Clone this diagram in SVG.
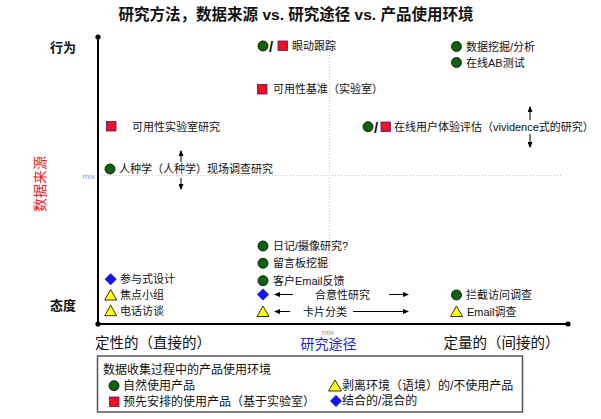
<svg xmlns="http://www.w3.org/2000/svg" width="601" height="419" viewBox="0 0 601 419">
<defs>
<marker id="ah" markerUnits="userSpaceOnUse" markerWidth="6" markerHeight="5" refX="5" refY="2.5" orient="auto">
<path d="M0,0 L6,2.5 L0,5 z" fill="#000"/>
</marker>
</defs>
<style>
text { font-family: "Liberation Sans","Noto Sans CJK SC",sans-serif; fill:#111; }
.t11 { font-size:11px; }
.leg { font-size:12px; }
.ax { font-size:13px; font-weight:bold; }
.big { font-size:14.5px; }
.mix { font-size:8px; fill:#999; }
.sl { font-size:15px; font-weight:bold; }
.g { fill:#0b640b; stroke:#000; stroke-width:0.8; }
.r { fill:#ee1122; stroke:#551177; stroke-width:0.8; }
.y { fill:#ffff00; stroke:#000; stroke-width:0.8; }
.b { fill:#1515ee; }
.arr { stroke:#000; stroke-width:1; fill:none; marker-end:url(#ah); }
.dot { stroke:#c4c4c4; stroke-width:1; stroke-dasharray:1 2; }
.axis { stroke:#000; stroke-width:2; }
</style>

<text x="296" y="20" text-anchor="middle" style="font-size:15.5px;font-weight:bold">研究方法，数据来源 vs. 研究途径 vs. 产品使用环境</text>

<g id="axes">
<line class="dot" x1="98" y1="175.5" x2="563" y2="175.5"/>
<line class="dot" x1="329.5" y1="37" x2="329.5" y2="324"/>
<line class="axis" x1="98" y1="37" x2="98" y2="324"/>
<line class="axis" x1="98" y1="324" x2="568" y2="324"/>
<circle cx="98" cy="37" r="2.6" fill="#000"/>
<circle cx="98" cy="324" r="2.6" fill="#000"/>
<circle cx="568" cy="324" r="2.6" fill="#000"/>
<text class="mix" x="95" y="178.5" text-anchor="end">mix</text>
<text class="mix" x="328" y="335" text-anchor="middle">mix</text>
<text class="ax" x="50" y="51.7">行为</text>
<text class="ax" x="50" y="309.7">态度</text>
<text transform="translate(40,184) rotate(-90)" x="0" y="5" text-anchor="middle" style="font-size:14px;fill:#ee1c24">数据来源</text>
<text class="big" x="95" y="348.2">定性的（直接的）</text>
<text x="328.5" y="349" text-anchor="middle" style="font-size:14px;fill:#2222cc">研究途径</text>
<text class="big" x="443.5" y="348.2">定量的（间接的）</text>
</g>

<g id="connectors">
<line class="arr" x1="181" y1="162" x2="181" y2="151"/>
<line class="arr" x1="181" y1="178" x2="181" y2="189"/>
<line class="arr" x1="530" y1="120" x2="530" y2="107"/>
<line class="arr" x1="530" y1="134" x2="530" y2="147"/>
<line class="arr" x1="293" y1="294.5" x2="275" y2="294.5"/>
<line class="arr" x1="389" y1="294.5" x2="408" y2="294.5"/>
<line class="arr" x1="290" y1="311.5" x2="275" y2="311.5"/>
<line class="arr" x1="353" y1="311.5" x2="408" y2="311.5"/>
</g>

<g id="eyetracking">
<circle class="g" cx="263" cy="46" r="5"/>
<text class="sl" x="269" y="52">/</text>
<rect class="r" x="278" y="41" width="9.5" height="9.5"/>
<text class="t11" x="292" y="50">眼动跟踪</text>
</g>
<g id="datamining">
<circle class="g" cx="456.5" cy="46.5" r="5"/>
<text class="t11" x="466" y="50.5">数据挖掘/分析</text>
</g>
<g id="abtest">
<circle class="g" cx="456.5" cy="62.5" r="5"/>
<text class="t11" x="466" y="66.5">在线AB测试</text>
</g>
<g id="benchmark">
<rect class="r" x="257.5" y="84.5" width="9.5" height="9.5"/>
<text class="t11" x="273" y="93">可用性基准（实验室）</text>
</g>
<g id="online-ux">
<circle class="g" cx="368" cy="126.7" r="5"/>
<text class="sl" x="374" y="132.7">/</text>
<rect class="r" x="381" y="122" width="9.5" height="9.5"/>
<text class="t11" x="394" y="130.7">在线用户体验评估（vividence式的研究）</text>
</g>
<g id="usability-lab">
<rect class="r" x="106.5" y="121.5" width="9.5" height="9.5"/>
<text class="t11" x="132" y="130.5">可用性实验室研究</text>
</g>
<g id="ethnography">
<circle class="g" cx="110" cy="169" r="5"/>
<text class="t11" x="119" y="173">人种学（人种学）现场调查研究</text>
</g>
<g id="diary">
<circle class="g" cx="263" cy="246" r="5"/>
<text class="t11" x="273" y="250">日记/摄像研究?</text>
</g>
<g id="forum">
<circle class="g" cx="263" cy="263.3" r="5"/>
<text class="t11" x="273" y="267.3">留言板挖掘</text>
</g>
<g id="email-feedback">
<circle class="g" cx="263" cy="280.7" r="5"/>
<text class="t11" x="273" y="284.7">客户Email反馈</text>
</g>
<g id="desirability">
<polygon class="b" points="263,288.5 269,294.5 263,300.5 257,294.5"/>
<text class="t11" x="315" y="299">合意性研究</text>
</g>
<g id="cardsort">
<polygon class="y" points="263,306 269,316.5 257,316.5"/>
<text class="t11" x="303" y="316">卡片分类</text>
</g>
<g id="intercept">
<circle class="g" cx="456.5" cy="295" r="5"/>
<text class="t11" x="466" y="299">拦截访问调查</text>
</g>
<g id="email-survey">
<polygon class="y" points="456.5,306 462.5,316.5 450.5,316.5"/>
<text class="t11" x="467" y="315.5">Email调查</text>
</g>
<g id="participatory">
<polygon class="b" points="110.7,273.3 116.7,279.3 110.7,285.3 104.7,279.3"/>
<text class="t11" x="120" y="283.3">参与式设计</text>
</g>
<g id="focusgroup">
<polygon class="y" points="110.7,289.5 116.7,300 104.7,300"/>
<text class="t11" x="120" y="299">焦点小组</text>
</g>
<g id="phone">
<polygon class="y" points="110.7,305.2 116.7,315.7 104.7,315.7"/>
<text class="t11" x="120" y="314.7">电话访谈</text>
</g>

<g id="legend">
<rect x="97.5" y="356" width="425" height="56" fill="#fff" stroke="#555" stroke-width="1.5"/>
<text class="leg" x="103" y="374">数据收集过程中的产品使用环境</text>
<circle class="g" cx="114" cy="385.7" r="5"/>
<text class="leg" x="123" y="390">自然使用产品</text>
<rect class="r" x="109.5" y="397" width="9.5" height="9.5"/>
<text class="leg" x="123" y="406">预先安排的使用产品（基于实验室）</text>
<polygon class="y" points="335,380 341.5,391 328.5,391"/>
<text class="leg" x="342" y="390">剥离环境（语境）的/不使用产品</text>
<polygon class="b" points="336,395 342,401 336,407 330,401"/>
<text class="leg" x="342" y="405.3">结合的/混合的</text>
</g>
</svg>
